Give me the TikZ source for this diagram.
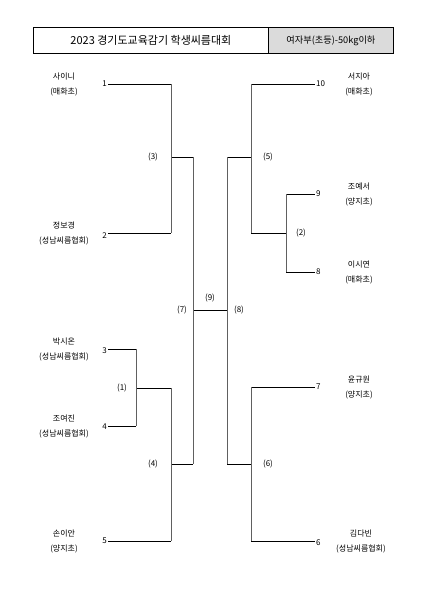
\documentclass[tikz,border=0pt]{standalone}
\usepackage{fontspec}
\setmainfont{Noto Sans CJK KR}
\begin{document}
\begin{tikzpicture}[x=1pt,y=-1pt,
  hline/.style={black,line width=0.7pt},
  vline/.style={gray!75!black,line width=1pt},
  pname/.style={font=\fontsize{8}{15}\selectfont,align=center,inner sep=0pt},
  pnum/.style={font=\fontsize{8}{9}\selectfont,inner sep=1pt},
  rnd/.style={font=\fontsize{8}{9}\selectfont,inner sep=0pt}]
\useasboundingbox (0,0) rectangle (424,600);
% title
\node[draw,line width=0.8pt,minimum width=235,minimum height=26,anchor=north west,inner sep=0pt,
  font=\fontsize{11}{12}\selectfont] (title) at (33,27) {2023 경기도교육감기 학생씨름대회};
\node[draw,line width=0.8pt,fill=gray!28,minimum width=125,minimum height=26,anchor=north west,inner sep=0pt,
  font=\fontsize{9.2}{11}\selectfont] (cat) at (268,27) {여자부(초등)-50kg이하};
% left coordinates
\coordinate (p1) at (108,84);  \coordinate (j1) at (171,84);
\coordinate (p2) at (108,233); \coordinate (j2) at (171,233);
\coordinate (m3) at (171,157); \coordinate (m3o) at (193,157);
\coordinate (p3) at (108,349); \coordinate (j3) at (136,349);
\coordinate (p4) at (108,426); \coordinate (j4) at (136,426);
\coordinate (m1) at (136,388); \coordinate (m1o) at (171,388);
\coordinate (p5) at (108,541); \coordinate (j5) at (171,541);
\coordinate (m4) at (171,464); \coordinate (m4o) at (193,464);
\coordinate (c7) at (193,310); \coordinate (c8) at (227,310);
% right coordinates
\coordinate (m5o) at (227,157); \coordinate (m5) at (251,157);
\coordinate (k10) at (251,84);  \coordinate (q10) at (315,84);
\coordinate (k2) at (251,233);  \coordinate (m2) at (286,233);
\coordinate (k9) at (286,194);  \coordinate (q9) at (315,194);
\coordinate (k8) at (286,272);  \coordinate (q8) at (315,272);
\coordinate (m6o) at (227,464); \coordinate (m6) at (251,464);
\coordinate (k7) at (251,387);  \coordinate (q7) at (315,387);
\coordinate (k6) at (251,541);  \coordinate (q6) at (315,541);
% horizontal lines
\draw[hline] (p1)--(j1) (p2)--(j2) (m3)--(m3o) (p3)--(j3) (p4)--(j4) (m1)--(m1o)
  (p5)--(j5) (m4)--(m4o) (c7)--(c8) (m5o)--(m5) (k10)--(q10) (k2)--(m2)
  (k9)--(q9) (k8)--(q8) (m6o)--(m6) (k7)--(q7) (k6)--(q6);
% vertical lines
\draw[vline] (j1)--(j2) (m3o)--(m4o) (j3)--(j4) (m1o)--(j5) (m5o)--(m6o)
  (k10)--(k2) (k9)--(k8) (k7)--(k6);
% round labels
\node[rnd] (r3) at (153,157) {(3)};
\node[rnd] (r1) at (122,388) {(1)};
\node[rnd] (r4) at (153,464) {(4)};
\node[rnd] (r7) at (182,310) {(7)};
\node[rnd] (r9) at (210,298) {(9)};
\node[rnd] (r8) at (239,310) {(8)};
\node[rnd] (r5) at (268,157) {(5)};
\node[rnd] (r2) at (301,233) {(2)};
\node[rnd] (r6) at (268,464) {(6)};
% left numbers
\node[pnum,anchor=east] (n1) at (p1) {1};
\node[pnum,anchor=east] (n2) at ([yshift=-3]p2) {2};
\node[pnum,anchor=east] (n3) at ([yshift=-2]p3) {3};
\node[pnum,anchor=east] (n4) at ([yshift=-1]p4) {4};
\node[pnum,anchor=east] (n5) at (p5) {5};
% right numbers
\node[pnum,anchor=west] (n10) at (q10) {10};
\node[pnum,anchor=west] (n9) at (q9) {9};
\node[pnum,anchor=west] (n8) at (q8) {8};
\node[pnum,anchor=west] (n7) at (q7) {7};
\node[pnum,anchor=west] (n6) at ([yshift=-2]q6) {6};
% left names
\node[pname] (a1) at (64,84.5) {사이니\\(매화초)};
\node[pname] (a2) at (64,233.5) {정보경\\(성남씨름협회)};
\node[pname] (a3) at (64,349.5) {박시온\\(성남씨름협회)};
\node[pname] (a4) at (64,426.5) {조여진\\(성남씨름협회)};
\node[pname] (a5) at (64,541.5) {손이안\\(양지초)};
% right names
\node[pname] (b10) at (359,84.5) {서지아\\(매화초)};
\node[pname] (b9) at (359,194.5) {조예서\\(양지초)};
\node[pname] (b8) at (359,272.5) {이시연\\(매화초)};
\node[pname] (b7) at (359,387.5) {윤규원\\(양지초)};
\node[pname] (b6) at (361,541.5) {김다빈\\(성남씨름협회)};
\end{tikzpicture}
\end{document}
